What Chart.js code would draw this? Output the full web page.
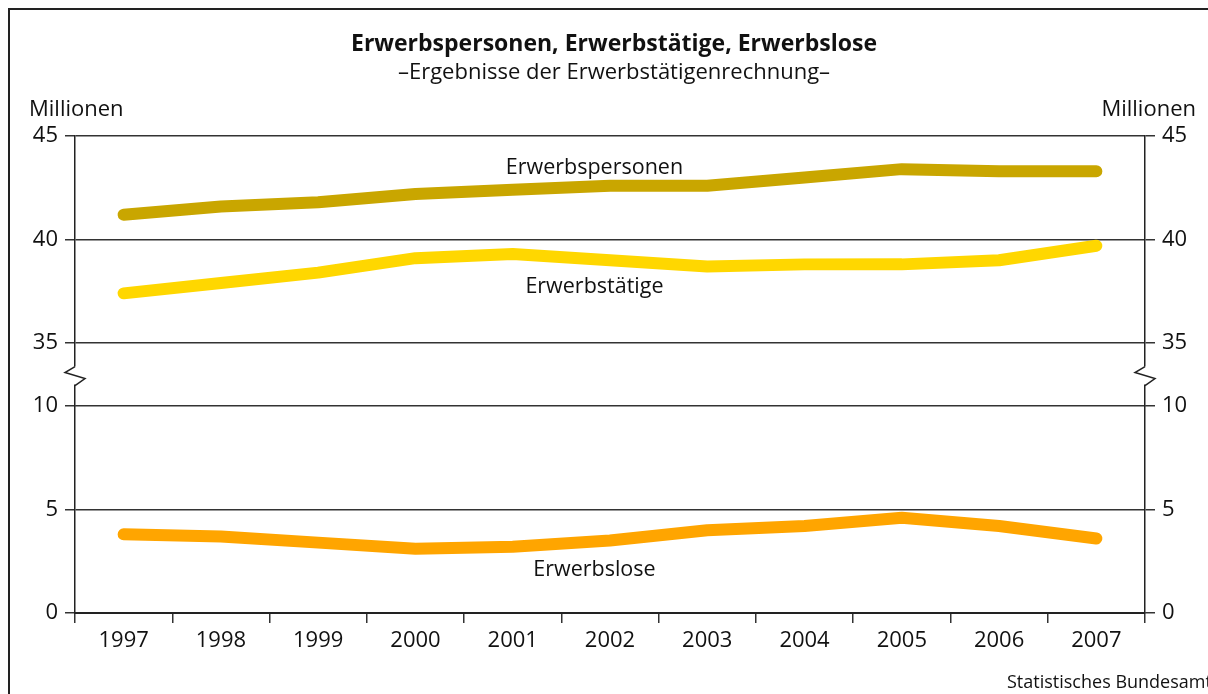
<!DOCTYPE html>
<html>
<head>
  <title>Erwerbspersonen, Erwerbstätige, Erwerbslose</title>
  <style>
    body {
      margin: 0;
      padding: 0;
      background-color: white;
    }
    #wrap {
      width: 1208px;
      height: 694px;
    }
  </style>
</head>
<body>
  <div id="wrap"><canvas id="chart" width="1208" height="694"></canvas></div>

  <script src="https://cdn.jsdelivr.net/npm/chart.js"></script>
  <script>
    const years = ["1997", "1998", "1999", "2000", "2001", "2002", "2003", "2004", "2005", "2006", "2007"];
    const erwerbspersonen = [41.2, 41.6, 41.8, 42.2, 42.4, 42.6, 42.6, 43.0, 43.4, 43.3, 43.3];
    const erwerbstaetige = [37.4, 37.9, 38.4, 39.1, 39.3, 39.0, 38.7, 38.8, 38.8, 39.0, 39.7];
    const erwerbslose = [3.8, 3.7, 3.4, 3.1, 3.2, 3.5, 4.0, 4.2, 4.6, 4.2, 3.6];
    const upperTicks = [35, 40, 45];
    const lowerTicks = [0, 5, 10];

    const FONT = "'Open Sans', 'Noto Sans', sans-serif";
    const gridColor = "#333";

    // upper part 35..45 plus the empty band down to the break
    const upperMin = 31.96;

    function fixTicks(list) {
      return function (scale) {
        scale.ticks = list.map(v => ({ value: v }));
      };
    }

    const extras = {
      id: "extras",
      afterDraw(chart) {
        const ctx = chart.ctx;
        const area = chart.chartArea;
        const yTop = chart.scales.yTop;
        const yBottom = chart.scales.yBottom;
        const x = chart.scales.x;

        ctx.save();
        // frame
        ctx.strokeStyle = "#222";
        ctx.lineWidth = 2;
        ctx.strokeRect(9, 9, 1210, 700);

        // titles
        ctx.fillStyle = "#111";
        ctx.textAlign = "center";
        ctx.textBaseline = "middle";
        ctx.font = "bold 23px " + FONT;
        ctx.fillText("Erwerbspersonen, Erwerbstätige, Erwerbslose", 614, 44);
        ctx.font = "22px " + FONT;
        ctx.fillText("\u2013Ergebnisse der Erwerbstätigenrechnung\u2013", 614, 73);

        ctx.textAlign = "left";
        ctx.fillText("Millionen", 29, 110);
        ctx.textAlign = "right";
        ctx.fillText("Millionen", 1196, 110);

        ctx.font = "18px " + FONT;
        ctx.textAlign = "left";
        ctx.fillText("Statistisches Bundesamt", 1007, 683);

        // series labels
        ctx.font = "21.5px " + FONT;
        ctx.textAlign = "center";
        const lx = x.getPixelForValue(4.84);
        ctx.fillText("Erwerbspersonen", lx, yTop.getPixelForValue(43.45));
        ctx.fillText("Erwerbstätige", lx, yTop.getPixelForValue(37.7));
        ctx.fillText("Erwerbslose", lx, yBottom.getPixelForValue(2.1));

        // axis break
        const y0 = yTop.getPixelForValue(35);
        const y1 = yBottom.getPixelForValue(10);
        const mid = (y0 + y1) / 2 + 1;
        [area.left, area.right].forEach(ax => {
          ctx.fillStyle = "white";
          ctx.fillRect(ax - 3, mid - 9, 6, 18);
          ctx.strokeStyle = "#222";
          ctx.lineWidth = 1.5;
          ctx.beginPath();
          ctx.moveTo(ax, mid - 9);
          ctx.lineTo(ax - 10, mid - 3);
          ctx.lineTo(ax + 10, mid + 3);
          ctx.lineTo(ax, mid + 10);
          ctx.stroke();
        });
        ctx.restore();
      }
    };

    function yAxis(pos, stack, min, max, ticks, weight, onArea) {
      return {
        type: "linear",
        position: pos,
        stack: stack,
        stackWeight: weight,
        min: min,
        max: max,
        afterBuildTicks: fixTicks(ticks),
        afterFit(scale) { scale.width = pos === "left" ? 75 : 63; },
        grid: {
          color: gridColor,
          lineWidth: 1.5,
          drawOnChartArea: onArea,
          tickLength: 10
        },
        border: { display: true, color: "#222", width: 1.5 },
        ticks: {
          color: "#111",
          padding: 7,
          font: { family: FONT, size: 22 }
        }
      };
    }

    const lineStyle = {
      borderWidth: 12,
      pointRadius: 0,
      tension: 0,
      borderCapStyle: "round",
      borderJoinStyle: "round",
      fill: false
    };

    new Chart(document.getElementById("chart").getContext("2d"), {
      type: "line",
      data: {
        labels: years,
        datasets: [
          Object.assign({ label: "Erwerbspersonen", data: erwerbspersonen, borderColor: "#c9a600", yAxisID: "yTop" }, lineStyle),
          Object.assign({ label: "Erwerbstätige", data: erwerbstaetige, borderColor: "#ffd700", yAxisID: "yTop" }, lineStyle),
          Object.assign({ label: "Erwerbslose", data: erwerbslose, borderColor: "#ffa500", yAxisID: "yBottom" }, lineStyle)
        ]
      },
      options: {
        responsive: false,
        animation: false,
        layout: { padding: { top: 136, left: 0, right: 0, bottom: 0 } },
        plugins: {
          legend: { display: false },
          tooltip: { enabled: false },
          title: { display: false }
        },
        scales: {
          x: {
            type: "category",
            offset: true,
            afterFit(scale) { scale.height = 81; },
            grid: {
              offset: true,
              drawOnChartArea: false,
              color: gridColor,
              lineWidth: 1.5,
              tickLength: 10
            },
            border: { display: true, color: "#222", width: 2 },
            ticks: {
              color: "#111",
              padding: 5,
              maxRotation: 0,
              font: { family: FONT, size: 22 }
            }
          },
          // left boxes are laid out in reverse order, so the lower part comes first
          yBottom: yAxis("left", "left", 0, 10, lowerTicks, 207, true),
          yTop: yAxis("left", "left", upperMin, 45, upperTicks, 270, true),
          yTopR: yAxis("right", "right", upperMin, 45, upperTicks, 270, false),
          yBottomR: yAxis("right", "right", 0, 10, lowerTicks, 207, false)
        }
      },
      plugins: [extras]
    });
  </script>
</body>
</html>
